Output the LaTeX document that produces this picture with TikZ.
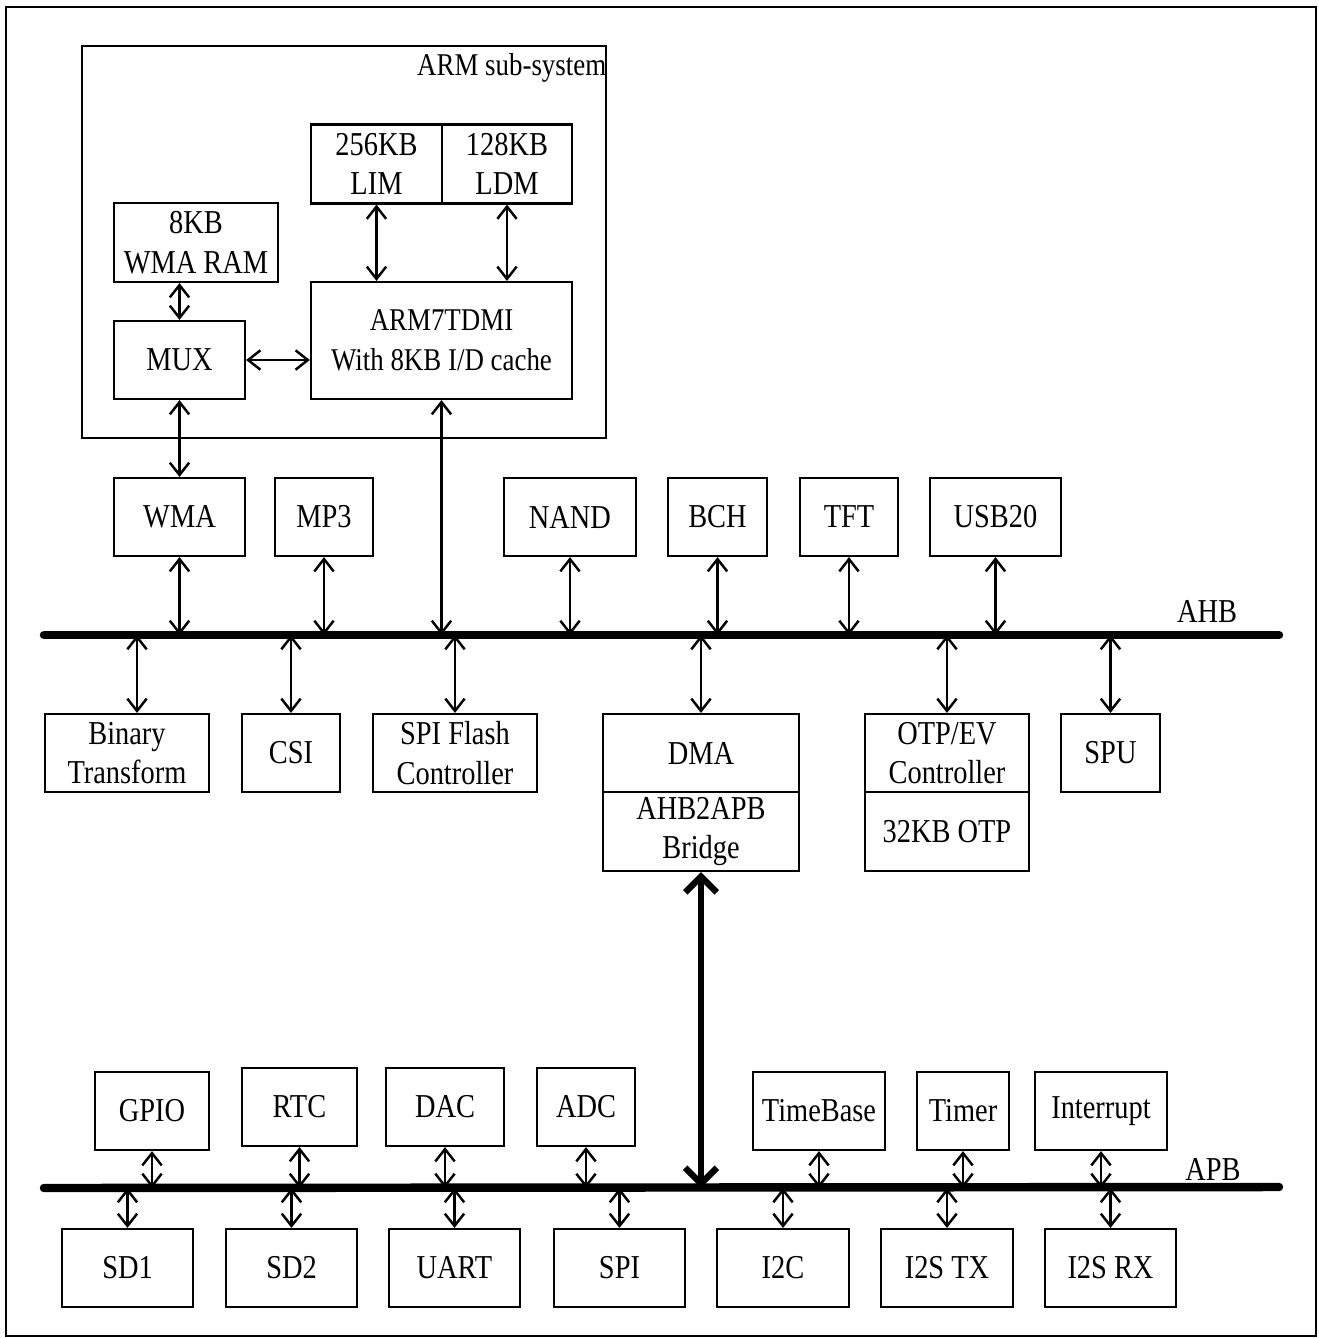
\documentclass[tikz,border=0pt]{standalone}
\usepackage{fontspec}
\setmainfont{Liberation Serif}[FakeStretch=0.85]
\usetikzlibrary{arrows.meta}
\newcommand{\blockfont}{\fontsize{9.5}{11.3}\selectfont}
\newcommand{\armfont}{\fontsize{9}{11.3}\selectfont}

\begin{document}
\begin{tikzpicture}[x=0.01cm,y=-0.01cm,
    >={Straight Barb[length=3.5pt,width=5.5pt]},
    blk/.style={draw,line width=0.6pt,minimum height=0.78cm,inner sep=0pt,align=center,font=\blockfont},
    bus/.style={line width=2.4pt,line cap=round},
    link/.style={<->,line width=0.7pt},
    bridgelink/.style={{Straight Barb[length=4.5pt,width=9pt]}-{Straight Barb[length=4.5pt,width=9pt]},line width=1.8pt}]
  \useasboundingbox (0,0) rectangle (1319,1338);
  \draw[line width=0.6pt] (6,7) rectangle (1316,1336);

  % ARM sub-system
  \node[draw,line width=0.6pt,minimum width=5.24cm,minimum height=3.92cm] (armsub) at (344,242) {};
  \node[anchor=base east,inner sep=0pt,font=\armfont] (armlbl) at (607,75) {ARM sub-system};
  \node[blk,minimum width=1.31cm,minimum height=0.79cm] (lim) at (376.5,164) {256KB\\LIM};
  \node[blk,minimum width=1.30cm,minimum height=0.79cm] (ldm) at (507,164) {128KB\\LDM};
  \node[blk,minimum width=1.64cm,minimum height=0.79cm] (wmaram) at (196,242.5) {8KB\\WMA RAM};
  \node[blk,minimum width=1.31cm] (mux) at (179.5,360) {MUX};
  \node[blk,font=\armfont,minimum width=2.61cm,minimum height=1.17cm] (arm) at (441.5,340.5) {ARM7TDMI\\With 8KB I/D cache};

  \draw[link] (mux.north |- wmaram.south) -- (mux.north);
  \draw[link] (lim.south) -- (lim.south |- arm.north);
  \draw[link] (ldm.south) -- (ldm.south |- arm.north);
  \draw[link] (mux.east) -- (mux.east -| arm.west);

  % AHB
  \coordinate (ahbL) at (44,635);
  \coordinate (ahbR) at (1279,635);
  \draw[bus] (ahbL) -- (ahbR);
  \node[anchor=base,inner sep=0pt,font=\blockfont] (ahblbl) at (1207,622) {AHB};

  \node[blk,minimum width=1.31cm] (wma) at (179.5,517) {WMA};
  \node[blk,minimum width=0.98cm] (mp3) at (324,517) {MP3};
  \node[blk,minimum width=1.32cm] (nand) at (570,517) {NAND};
  \node[blk,minimum width=0.99cm] (bch) at (717.5,517) {BCH};
  \node[blk,minimum width=0.98cm] (tft) at (849,517) {TFT};
  \node[blk,minimum width=1.31cm] (usb) at (995.5,517) {USB20};

  \node[blk,minimum width=1.64cm] (bin) at (127,753) {Binary\\Transform};
  \node[blk,minimum width=0.98cm] (csi) at (291,753) {CSI};
  \node[blk,minimum width=1.64cm] (spif) at (455,753) {SPI Flash\\Controller};
  \node[blk,minimum width=1.96cm] (dma) at (701,753) {DMA};
  \node[blk,minimum width=1.96cm,minimum height=0.79cm] (bridge) at (701,831.5) {AHB2APB\\Bridge};
  \node[blk,minimum width=1.64cm] (otpc) at (947,753) {OTP/EV\\Controller};
  \node[blk,minimum width=1.64cm,minimum height=0.79cm] (otp) at (947,831.5) {32KB OTP};
  \node[blk,minimum width=0.99cm] (spu) at (1110.5,753) {SPU};

  \draw[link] (mux.south) -- (wma.north);
  \draw[link] (arm.south) -- (arm.south |- ahbL);
  \foreach \blk in {wma,mp3,nand,bch,tft,usb}
    \draw[link] (\blk.south) -- (\blk.south |- ahbL);
  \coordinate (binup) at ([xshift=0.1cm]bin.north);
  \draw[link] (binup |- ahbL) -- (binup);
  \foreach \blk in {csi,spif,dma,otpc,spu}
    \draw[link] (\blk.north |- ahbL) -- (\blk.north);

  % APB
  \coordinate (apbL) at (44,1188);
  \coordinate (apbR) at (1279,1187);
  \draw[bus] (apbL) -- (apbR);
  \node[anchor=base,inner sep=0pt,font=\blockfont] (apblbl) at (1213,1180) {APB};
  \draw[bridgelink] (bridge.south) -- (bridge.south |- apbL);

  \node[blk,minimum width=1.14cm] (gpio) at (152,1111) {GPIO};
  \node[blk,minimum width=1.15cm] (rtc) at (299.5,1107) {RTC};
  \node[blk,minimum width=1.18cm] (dac) at (445,1107) {DAC};
  \node[blk,minimum width=0.98cm] (adc) at (586,1107) {ADC};
  \node[blk,minimum width=1.32cm] (tb) at (819,1111) {TimeBase};
  \node[blk,minimum width=0.92cm] (timer) at (963,1111) {Timer};
  \node[blk,minimum width=1.32cm] (irq) at (1101,1111) {Interrupt};

  \node[blk,minimum width=1.31cm] (sd1) at (127.5,1268) {SD1};
  \node[blk,minimum width=1.31cm] (sd2) at (291.5,1268) {SD2};
  \node[blk,minimum width=1.31cm] (uart) at (454.5,1268) {UART};
  \node[blk,minimum width=1.31cm] (spi) at (619.5,1268) {SPI};
  \node[blk,minimum width=1.32cm] (i2c) at (783,1268) {I2C};
  \node[blk,minimum width=1.32cm] (i2stx) at (947,1268) {I2S TX};
  \node[blk,minimum width=1.31cm] (i2srx) at (1110.5,1268) {I2S RX};

  \foreach \blk in {gpio,rtc,dac,adc,tb,timer,irq}
    \draw[link] (\blk.south) -- (\blk.south |- apbL);
  \foreach \blk in {sd1,sd2,uart,spi,i2c,i2stx,i2srx}
    \draw[link] (\blk.north |- apbL) -- (\blk.north);
\end{tikzpicture}
\end{document}
